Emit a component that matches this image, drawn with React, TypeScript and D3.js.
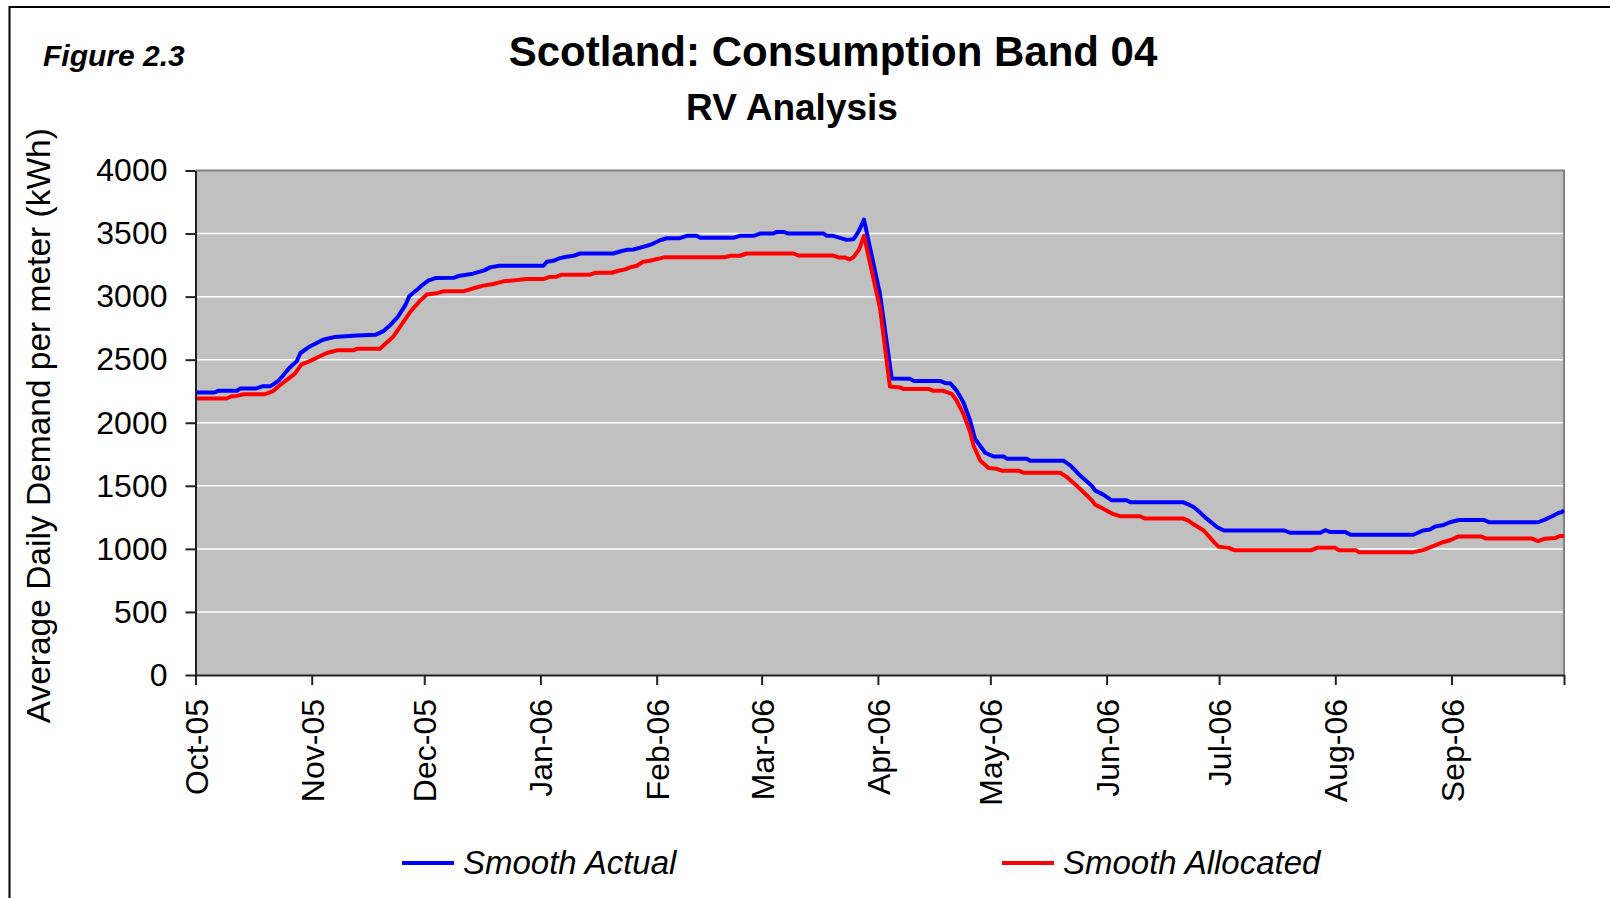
import { useEffect, useRef } from "react"
import * as d3 from "d3"

const W = 1610
const H = 898
const PLOT = { left: 195.5, right: 1564, top: 170.5, bottom: 675 }
const FONT = "'Liberation Sans', Arial, Helvetica, sans-serif"

const START = Date.UTC(2005, 9, 1)
const END = Date.UTC(2006, 9, 1)

// days since 1 Oct 2005
const actualDays = [
  0, 5, 6, 11, 12, 16, 18, 20, 22, 23.4, 25, 27, 28, 30.5, 34, 37, 43, 48, 50, 52, 54, 56, 57, 59, 60, 62, 64, 69,
  70.5, 74, 77, 78.6, 81, 92.8, 93.7, 95.4, 97.2, 99, 100.8, 102.6, 111.4, 113.2, 115, 116.8, 118.6, 120.4, 122.1,
  123.9, 125.7, 129.2, 131, 133.7, 134.6, 143.4, 145.2, 148.8, 150.6, 154.1, 155, 156.8, 158.1, 167.5, 168.4, 170.1,
  171.9, 173.7, 175.5, 176.8, 178.3, 182.6, 185.7, 190.6, 191.5, 198.6, 199.9, 201.3, 203, 204.8, 206.6, 207.9,
  210.6, 212.8, 215.5, 216.4, 221.7, 222.6, 231.5, 233.3, 235.9, 239.1, 239.9, 242.1, 244.4, 248.4, 249.3, 263.5,
  264.8, 266.2, 267.5, 269.3, 272.5, 274.3, 290.5, 291.9, 300, 301.3, 302.7, 306.7, 308.1, 324.8, 327.4, 329.3,
  330.6, 332.9, 334.6, 336.9, 343.7, 345, 358.1, 359.9, 362.1, 363.5, 364.3, 365,
]
const actualValues = [
  2240, 2240, 2253, 2253, 2271, 2271, 2290, 2290, 2329, 2376, 2434, 2487, 2553, 2605, 2658, 2679, 2692, 2697, 2724,
  2776, 2842, 2934, 3003, 3053, 3079, 3126, 3147, 3150, 3166, 3182, 3208, 3232, 3245, 3245, 3276, 3284, 3305, 3316,
  3324, 3342, 3342, 3358, 3371, 3374, 3389, 3403, 3421, 3447, 3463, 3463, 3482, 3482, 3466, 3466, 3482, 3482, 3500,
  3500, 3513, 3513, 3500, 3500, 3482, 3482, 3466, 3450, 3455, 3513, 3610, 3015, 2350, 2348, 2332, 2332, 2316, 2313,
  2255, 2163, 2018, 1873, 1762, 1733, 1733, 1715, 1715, 1699, 1699, 1662, 1583, 1499, 1464, 1430, 1385, 1385, 1369,
  1369, 1353, 1332, 1300, 1250, 1172, 1146, 1146, 1128, 1128, 1148, 1133, 1133, 1112, 1112, 1146, 1154, 1177, 1190,
  1211, 1229, 1229, 1211, 1211, 1232, 1263, 1284, 1290, 1305,
]

const allocatedDays = [
  0, 8.3, 9.7, 11, 12.8, 18.5, 20.8, 22.5, 24.8, 26.5, 28.3, 30.5, 35, 37.7, 42.1, 43, 49.2, 52.8, 55.4, 57.2, 59.9,
  61.7, 64.3, 66.1, 71.4, 74.1, 76.8, 79.4, 82.1, 88.3, 92.8, 94.2, 96.3, 97.7, 105.2, 106.6, 111, 112.8, 114.6,
  115.9, 117.7, 119.4, 121.2, 122.6, 123.9, 125.2, 141.2, 142.6, 145.2, 147, 159.5, 160.8, 170.1, 171.5, 173.2,
  174.4, 175.5, 177, 178.3, 182.6, 185.2, 187.9, 188.8, 195.5, 196.8, 199.5, 200.4, 201.7, 203, 204.8, 206.6, 207.5,
  209.3, 211.5, 213.7, 215, 219.5, 220.8, 230.6, 232.4, 235.9, 239.1, 239.9, 242.1, 244.4, 246.6, 251.9, 253.3,
  263.5, 264.8, 266.2, 268.9, 271.6, 272.9, 275.6, 277, 297.7, 299.1, 304, 304.9, 309.4, 310.3, 324.8, 327.4, 330.1,
  332.9, 334.6, 336.9, 342.8, 344.1, 356.3, 358.1, 359.9, 362.6, 363.9, 365,
]
const allocatedValues = [
  2192, 2192, 2211, 2213, 2226, 2226, 2253, 2297, 2350, 2389, 2463, 2489, 2553, 2574, 2574, 2587, 2587, 2684, 2797,
  2876, 2968, 3016, 3026, 3042, 3042, 3066, 3087, 3100, 3121, 3139, 3139, 3155, 3158, 3174, 3174, 3189, 3189, 3205,
  3216, 3232, 3245, 3276, 3284, 3295, 3303, 3313, 3313, 3324, 3324, 3342, 3342, 3326, 3326, 3311, 3311, 3295, 3313,
  3375, 3482, 2903, 2287, 2280, 2268, 2268, 2253, 2253, 2242, 2229, 2176, 2071, 1926, 1820, 1701, 1641, 1635, 1620,
  1620, 1604, 1604, 1570, 1477, 1385, 1351, 1319, 1280, 1259, 1259, 1240, 1240, 1224, 1195, 1146, 1055, 1016, 1008,
  990, 990, 1008, 1008, 990, 990, 974, 974, 990, 1021, 1055, 1068, 1099, 1099, 1083, 1083, 1062, 1081, 1086, 1102,
  1102,
]

const yTicks = [0, 500, 1000, 1500, 2000, 2500, 3000, 3500, 4000]
const monthLabels = [
  "Oct-05", "Nov-05", "Dec-05", "Jan-06", "Feb-06", "Mar-06",
  "Apr-06", "May-06", "Jun-06", "Jul-06", "Aug-06", "Sep-06",
]
const seriesNames = ["Smooth Actual", "Smooth Allocated"]
const seriesColors = ["#0000ff", "#ff0000"]

type Pt = { date: Date; value: number }

const toPoints = (days: number[], values: number[]): Pt[] =>
  days.map((d, i) => ({ date: new Date(START + d * 864e5), value: values[i] }))

export default function App() {
  const svgRef = useRef<SVGSVGElement>(null)

  useEffect(() => {
    if (!svgRef.current) return
    const svg = d3.select(svgRef.current)
    svg.selectAll("*").remove()

    // outer frame
    svg.append("rect")
      .attr("x", 9.5).attr("y", 7)
      .attr("width", W).attr("height", H)
      .attr("fill", "white").attr("stroke", "black").attr("stroke-width", 2)

    const x = d3.scaleUtc().domain([new Date(START), new Date(END)]).range([PLOT.left, PLOT.right])
    const y = d3.scaleLinear().domain([0, 4000]).range([PLOT.bottom, PLOT.top])

    // plot area
    svg.append("rect")
      .attr("x", PLOT.left).attr("y", PLOT.top)
      .attr("width", PLOT.right - PLOT.left).attr("height", PLOT.bottom - PLOT.top)
      .attr("fill", "#c0c0c0")

    // gridlines
    svg.append("g")
      .selectAll("line")
      .data(yTicks.filter((t) => t > 0 && t < 4000))
      .join("line")
      .attr("x1", PLOT.left).attr("x2", PLOT.right)
      .attr("y1", (d) => y(d)).attr("y2", (d) => y(d))
      .attr("stroke", "white").attr("stroke-width", 1.5)

    // top / right border
    svg.append("path")
      .attr("d", `M${PLOT.left},${PLOT.top}H${PLOT.right}V${PLOT.bottom}`)
      .attr("fill", "none").attr("stroke", "#808080").attr("stroke-width", 2)

    // lines
    const line = d3.line<Pt>().x((d) => x(d.date)).y((d) => y(d.value))
    const series = [toPoints(actualDays, actualValues), toPoints(allocatedDays, allocatedValues)]
    series.forEach((pts, i) => {
      svg.append("path")
        .datum(pts)
        .attr("fill", "none")
        .attr("stroke", seriesColors[i])
        .attr("stroke-width", 4)
        .attr("stroke-linejoin", "round")
        .attr("d", line)
    })

    // y axis
    const yAxis = svg.append("g")
      .attr("transform", `translate(${PLOT.left},0)`)
      .call(
        d3.axisLeft(y)
          .tickValues(yTicks)
          .tickFormat(d3.format("d"))
          .tickSize(10)
          .tickSizeOuter(0)
          .tickPadding(18)
      )
    yAxis.attr("font-family", FONT).attr("font-size", 32)
    yAxis.selectAll("path,line").attr("stroke", "#222").attr("stroke-width", 2)
    yAxis.selectAll("text").attr("fill", "black")

    // x axis
    const months = d3.utcMonth.range(new Date(START), new Date(END + 1))
    const xAxis = svg.append("g")
      .attr("transform", `translate(0,${PLOT.bottom})`)
      .call(
        d3.axisBottom(x)
          .tickValues(months)
          .tickSize(10)
          .tickSizeOuter(0)
          .tickFormat((_, i) => monthLabels[i] ?? "")
      )
    xAxis.attr("font-family", FONT).attr("font-size", 32)
    xAxis.selectAll("path,line").attr("stroke", "#222").attr("stroke-width", 2)
    xAxis.selectAll("text")
      .attr("fill", "black")
      .attr("transform", "rotate(-90)")
      .attr("text-anchor", "end")
      .attr("x", -24)
      .attr("y", 0)
      .attr("dy", "0.36em")

    // y title
    svg.append("text")
      .attr("transform", `translate(50,${(PLOT.top + PLOT.bottom) / 2 + 3}) rotate(-90)`)
      .attr("text-anchor", "middle")
      .attr("font-family", FONT).attr("font-size", 33.5)
      .text("Average Daily Demand per meter (kWh)")

    // titles
    svg.append("text")
      .attr("x", 833).attr("y", 66)
      .attr("text-anchor", "middle")
      .attr("font-family", FONT).attr("font-size", 42).attr("font-weight", "bold")
      .text("Scotland: Consumption Band 04")
    svg.append("text")
      .attr("x", 792).attr("y", 120)
      .attr("text-anchor", "middle")
      .attr("font-family", FONT).attr("font-size", 37).attr("font-weight", "bold")
      .text("RV Analysis")
    svg.append("text")
      .attr("x", 43).attr("y", 66)
      .attr("font-family", FONT).attr("font-size", 30)
      .attr("font-weight", "bold").attr("font-style", "italic")
      .text("Figure 2.3")

    // legend
    const legendX = [402, 1002]
    seriesNames.forEach((name, i) => {
      const g = svg.append("g").attr("transform", `translate(${legendX[i]},863)`)
      g.append("line").attr("x1", 0).attr("x2", 52).attr("y1", 0).attr("y2", 0)
        .attr("stroke", seriesColors[i]).attr("stroke-width", 4)
      g.append("text").attr("x", 61).attr("y", 11)
        .attr("font-family", FONT).attr("font-size", 33).attr("font-style", "italic")
        .text(name)
    })
  }, [])

  return (
    <svg
      ref={svgRef}
      width={W}
      height={H}
      style={{ position: "absolute", left: 0, top: 0, display: "block" }}
    />
  )
}
